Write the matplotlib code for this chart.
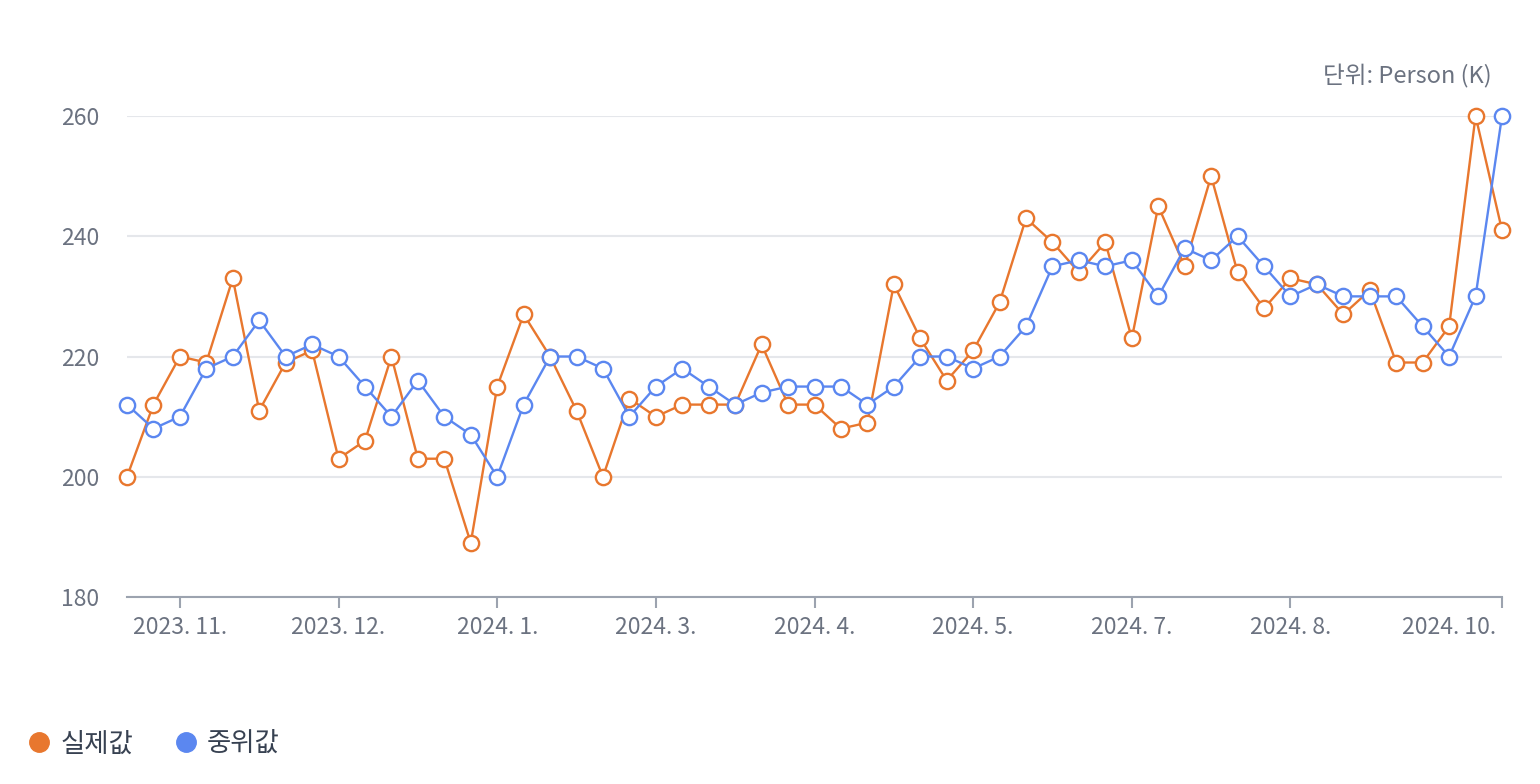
import matplotlib
matplotlib.use('Agg')
from matplotlib import pyplot as plt
from matplotlib.lines import Line2D

plt.rcParams['font.family'] = ['Noto Sans CJK KR', 'DejaVu Sans']

# weekly values, 53 points
actual = [200, 212, 220, 219, 233, 211, 219, 221, 203, 206, 220, 203, 203, 189,
          215, 227, 220, 211, 200, 213, 210, 212, 212, 212, 222, 212, 212, 208,
          209, 232, 223, 216, 221, 229, 243, 239, 234, 239, 223, 245, 235, 250,
          234, 228, 233, 232, 227, 231, 219, 219, 225, 260, 241]
median = [212, 208, 210, 218, 220, 226, 220, 222, 220, 215, 210, 216, 210, 207,
          200, 212, 220, 220, 218, 210, 215, 218, 215, 212, 214, 215, 215, 215,
          212, 215, 220, 220, 218, 220, 225, 235, 236, 235, 236, 230, 238, 236,
          240, 235, 230, 232, 230, 230, 230, 225, 220, 230, 260]

tick_pos = [2, 8, 14, 20, 26, 32, 38, 44, 50]
tick_labels = ['2023. 11.', '2023. 12.', '2024. 1.', '2024. 3.', '2024. 4.',
               '2024. 5.', '2024. 7.', '2024. 8.', '2024. 10.']
y_ticks = [180, 200, 220, 240, 260]

ORANGE = '#E8772E'
BLUE = '#5B87F0'
GRAY = '#6B7280'

fig = plt.figure(figsize=(15.4, 7.84), dpi=100)
ax = fig.add_axes([127 / 1540, 1 - 597 / 784, (1502 - 127) / 1540, (597 - 116) / 784])

x = list(range(len(actual)))
ax.plot(x, actual, color=ORANGE, lw=1.7, marker='o', ms=11, mfc='white',
        mec=ORANGE, mew=1.7, clip_on=False, zorder=3)
ax.plot(x, median, color=BLUE, lw=1.7, marker='o', ms=11, mfc='white',
        mec=BLUE, mew=1.7, clip_on=False, zorder=4)

ax.set_xlim(0, len(actual) - 1)
ax.set_ylim(180, 260)
ax.set_yticks(y_ticks)
ax.set_yticklabels([str(v) for v in y_ticks])
ax.grid(axis='y', color='#E5E7EB', lw=1.5)
ax.set_axisbelow(True)

ax.set_xticks(tick_pos)
ax.set_xticklabels(tick_labels)
# last month label has no mark; axis end gets one
ax.xaxis.get_major_ticks()[-1].tick1line.set_visible(False)
ax.set_xticks([len(actual) - 1], minor=True)

ax.tick_params(axis='x', which='both', length=8, width=1.5, color='#9CA3AF',
               labelsize=16.5, labelcolor=GRAY, pad=6)
ax.tick_params(axis='y', length=0, labelsize=16.5, labelcolor=GRAY, pad=20)
for side in ['top', 'right', 'left']:
    ax.spines[side].set_visible(False)
ax.spines['bottom'].set_color('#9CA3AF')
ax.spines['bottom'].set_linewidth(1.5)

fig.text(1492 / 1540, 1 - 76 / 784, '단위: Person (K)', ha='right', va='center',
         fontsize=17, color=GRAY)

handles = [Line2D([], [], ls='none', marker='o', ms=14, color=ORANGE),
           Line2D([], [], ls='none', marker='o', ms=14, color=BLUE)]
fig.legend(handles, ['실제값', '중위값'], loc='center left',
           bbox_to_anchor=(26 / 1540, 1 - 744 / 784), ncol=2, frameon=False,
           fontsize=19, labelcolor='#374151', handletextpad=0.3,
           columnspacing=1.5, handlelength=1.0, borderpad=0, borderaxespad=0)

fig.savefig('out.png', dpi=100)
